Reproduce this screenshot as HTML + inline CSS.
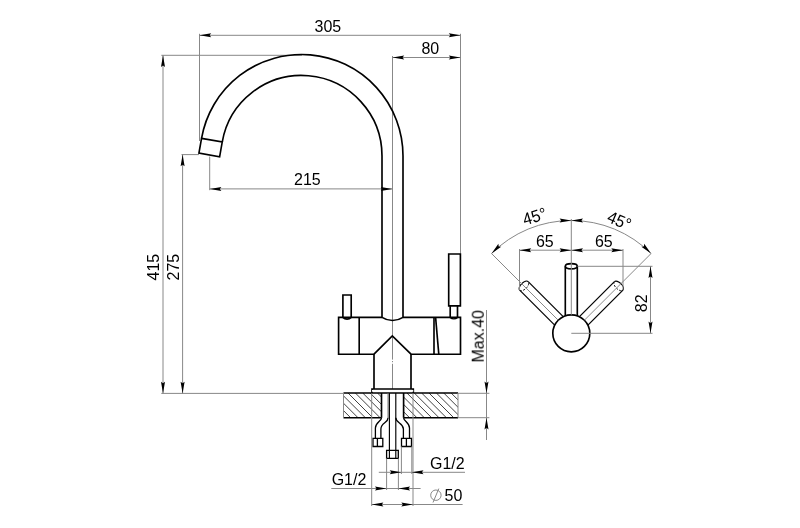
<!DOCTYPE html>
<html><head><meta charset="utf-8"><style>
html,body{margin:0;padding:0;background:#fff;}
svg{display:block;}
text{font-family:"Liberation Sans",sans-serif;fill:#000;}
.t{will-change:transform;}
.k{fill:none;stroke:#000;stroke-width:1.65;stroke-linejoin:miter;}
.k1{fill:none;stroke:#000;stroke-width:1.3;}
.n{fill:none;stroke:#888;stroke-width:1.0;}
.g{fill:none;stroke:#888;stroke-width:1.3;}
.w{fill:none;stroke:#fff;stroke-width:1.8;}
.h{fill:none;stroke:#111;stroke-width:0.8;}
.k3{fill:none;stroke:#000;stroke-width:1.15;}
.k2{fill:none;stroke:#000;stroke-width:1.2;}
.d{fill:none;stroke:#111;stroke-width:0.9;stroke-dasharray:2.2 1.3;}
.a{fill:#000;stroke:none;}
</style></head><body>
<svg width="800" height="528" viewBox="0 0 800 528">
<rect width="800" height="528" fill="#fff"/>
<line class="n" x1="199.5" y1="33.8" x2="199.5" y2="141"/>
<line class="n" x1="460.5" y1="33.8" x2="460.5" y2="253.7"/>
<line class="n" x1="199.5" y1="35.3" x2="460.5" y2="35.3"/>
<path class="a" d="M199.5 35.3L211.2 33.3L209.6 35.3L211.2 37.3Z"/>
<path class="a" d="M460.5 35.3L448.8 37.3L450.4 35.3L448.8 33.3Z"/>
<line class="n" x1="392.5" y1="56" x2="392.5" y2="359.6"/>
<line class="n" x1="392.5" y1="361" x2="392.5" y2="362.2"/>
<line class="n" x1="392.5" y1="363.8" x2="392.5" y2="389"/>
<line class="n" x1="392.5" y1="57.5" x2="460.5" y2="57.5"/>
<path class="a" d="M392.5 57.5L404.2 55.5L402.6 57.5L404.2 59.5Z"/>
<path class="a" d="M460.5 57.5L448.8 59.5L450.4 57.5L448.8 55.5Z"/>
<line class="n" x1="209.7" y1="156.5" x2="209.7" y2="190.2"/>
<line class="n" x1="209.7" y1="188.9" x2="392.5" y2="188.9"/>
<path class="a" d="M209.7 188.9L221.4 186.9L219.8 188.9L221.4 190.9Z"/>
<path class="a" d="M392.5 188.9L380.8 190.9L382.4 188.9L380.8 186.9Z"/>
<line class="n" x1="161.3" y1="55.3" x2="302" y2="55.3"/>
<line class="n" x1="181.5" y1="154.6" x2="199" y2="154.6"/>
<line class="n" x1="161.3" y1="393.4" x2="343.5" y2="393.4"/>
<line class="n" x1="163" y1="55.3" x2="163" y2="393.4"/>
<path class="a" d="M163 55.3L165 67L163 65.4L161 67Z"/>
<path class="a" d="M163 393.4L161 381.7L163 383.3L165 381.7Z"/>
<line class="n" x1="182.6" y1="154.6" x2="182.6" y2="393.4"/>
<path class="a" d="M182.6 154.6L184.6 166.3L182.6 164.7L180.6 166.3Z"/>
<path class="a" d="M182.6 393.4L180.6 381.7L182.6 383.3L184.6 381.7Z"/>
<path class="k" d="M403 317.4V156A101.5 101.5 0 0 0 201.54 138.37"/>
<path class="k" d="M382 317.4V156A80.5 80.5 0 0 0 222.22 142.02"/>
<path class="k" d="M201.54 138.37L222.22 142.02L219.62 156.79L198.94 153.15Z"/>
<path class="k" d="M382 317.4A19.3 19.3 0 0 0 403 317.4"/>
<path class="k" d="M382 317.4H338.6V354.2H374L392.3 335.9L411 354.2H460.5V317.4H403"/>
<line class="k" x1="359.2" y1="317.4" x2="359.2" y2="354.2"/>
<line class="k" x1="434" y1="317.4" x2="434" y2="354.2"/>
<line class="k" x1="435.6" y1="317.4" x2="438.8" y2="354.2"/>
<path class="k" d="M342.9 317.4V295H351.2V317.4"/>
<path class="k" d="M342.9 317.4A6 6 0 0 0 351.2 317.4"/>
<path class="k" d="M448.7 254H460.4V305.9H448.7Z"/>
<path class="k" d="M450.2 305.9V317.4M457.5 305.9V317.4"/>
<path class="k" d="M450.2 317.4A5.5 5.5 0 0 0 457.5 317.4"/>
<path class="k" d="M374 354.2V389M411 354.2V389"/>
<path class="k" d="M372 393V389H413.3V393"/>
<line class="w" x1="372" y1="390.9" x2="413.3" y2="390.9"/>
<clipPath id="hl"><rect x="343.5" y="393" width="38" height="24.7"/></clipPath>
<clipPath id="hr"><rect x="403.6" y="393" width="54.4" height="24.7"/></clipPath>
<path class="h" clip-path="url(#hl)" d="M303.81 393L328.51 417.7M311.18 393L335.88 417.7M318.54 393L343.24 417.7M325.9 393L350.6 417.7M333.27 393L357.97 417.7M340.63 393L365.33 417.7M348 393L372.7 417.7M355.37 393L380.06 417.7M362.73 393L387.43 417.7M370.1 393L394.8 417.7M377.46 393L402.16 417.7M384.82 393L409.52 417.7M392.19 393L416.89 417.7M399.56 393L424.25 417.7M406.92 393L431.62 417.7M414.28 393L438.98 417.7M421.65 393L446.35 417.7M429.01 393L453.71 417.7M436.38 393L461.08 417.7M443.75 393L468.44 417.7M451.11 393L475.81 417.7M458.48 393L483.18 417.7M465.84 393L490.54 417.7M473.2 393L497.9 417.7"/>
<path class="h" clip-path="url(#hr)" d="M303.81 393L328.51 417.7M311.18 393L335.88 417.7M318.54 393L343.24 417.7M325.9 393L350.6 417.7M333.27 393L357.97 417.7M340.63 393L365.33 417.7M348 393L372.7 417.7M355.37 393L380.06 417.7M362.73 393L387.43 417.7M370.1 393L394.8 417.7M377.46 393L402.16 417.7M384.82 393L409.52 417.7M392.19 393L416.89 417.7M399.56 393L424.25 417.7M406.92 393L431.62 417.7M414.28 393L438.98 417.7M421.65 393L446.35 417.7M429.01 393L453.71 417.7M436.38 393L461.08 417.7M443.75 393L468.44 417.7M451.11 393L475.81 417.7M458.48 393L483.18 417.7M465.84 393L490.54 417.7M473.2 393L497.9 417.7"/>
<path class="k" d="M343.5 393H458M343.5 417.7H381.5M403.6 417.7H458"/>
<line class="n" x1="343.5" y1="393" x2="343.5" y2="417.7"/>
<line class="n" x1="458" y1="393" x2="458" y2="417.7"/>
<path class="k" d="M381.5 393V417.7M403.6 393V417.7"/>
<line class="g" x1="388.1" y1="393.5" x2="388.1" y2="417.7"/>
<path class="k3" d="M389.4 393V458.4M395.8 393V458.4"/>
<path class="k1" d="M381.5 417.7C381.5 421 375.4 422.5 375.4 428V438.3"/>
<path class="k1" d="M388.1 417.7C388.1 423 380.9 422.5 380.9 429V438.3"/>
<path class="k1" d="M395.8 417.7C395.8 423 403.4 423 403.4 429V438.3"/>
<path class="k1" d="M403.6 417.7C403.6 421 409.5 422.5 409.5 428V438.3"/>
<path class="k1" d="M373 438.3H382.8V446.5H373Z"/>
<line class="k1" x1="377.4" y1="438.3" x2="377.4" y2="446.5"/>
<path class="k1" d="M401.5 438.3H411.5V446.5H401.5Z"/>
<line class="k1" x1="406.4" y1="438.3" x2="406.4" y2="446.5"/>
<path class="k1" d="M386.6 450.3H398.3V458.4H386.6Z"/>
<line class="n" x1="371.7" y1="393.4" x2="371.7" y2="506"/>
<line class="n" x1="413" y1="393.4" x2="413" y2="506"/>
<line class="n" x1="386.6" y1="458.4" x2="386.6" y2="490"/>
<line class="n" x1="398.4" y1="458.4" x2="398.4" y2="490"/>
<line class="n" x1="401.4" y1="446.5" x2="401.4" y2="474"/>
<line class="n" x1="411.8" y1="446.5" x2="411.8" y2="474"/>
<line class="n" x1="378.8" y1="472.3" x2="465" y2="472.3"/>
<path class="a" d="M401.4 472.3L389.7 474.3L391.3 472.3L389.7 470.3Z"/>
<path class="a" d="M411.8 472.3L423.5 470.3L421.9 472.3L423.5 474.3Z"/>
<line class="n" x1="331.3" y1="488.5" x2="420.6" y2="488.5"/>
<path class="a" d="M386.6 488.5L374.9 490.5L376.5 488.5L374.9 486.5Z"/>
<path class="a" d="M398.4 488.5L410.1 486.5L408.5 488.5L410.1 490.5Z"/>
<line class="n" x1="371.7" y1="504.5" x2="462.6" y2="504.5"/>
<path class="a" d="M371.7 504.5L383.4 502.5L381.8 504.5L383.4 506.5Z"/>
<path class="a" d="M413 504.5L401.3 506.5L402.9 504.5L401.3 502.5Z"/>
<circle class="n" cx="435.9" cy="495.2" r="5.2"/>
<line class="n" x1="433" y1="502.5" x2="438.8" y2="488.6"/>
<line class="n" x1="486.5" y1="310" x2="486.5" y2="440"/>
<line class="n" x1="458" y1="393.3" x2="489.4" y2="393.3"/>
<line class="n" x1="458" y1="417.7" x2="489.4" y2="417.7"/>
<path class="a" d="M486.5 393.3L484.5 381.6L486.5 383.2L488.5 381.6Z"/>
<path class="a" d="M486.5 417.7L488.5 429.4L486.5 427.8L484.5 429.4Z"/>
<circle class="k" cx="571.3" cy="333.3" r="18.5"/>
<line class="k2" x1="563.17" y1="316.68" x2="528.17" y2="281.68"/>
<line class="k2" x1="554.68" y1="325.17" x2="519.68" y2="290.17"/>
<g transform="translate(523.92 285.92) rotate(-45)"><path class="k2" d="M-6.0 0A6.0 3.2 0 0 1 6.0 0"/><path class="d" d="M-6.0 0A6.0 3.2 0 0 0 6.0 0"/></g>
<line class="n" x1="491.54" y1="253.54" x2="558.22" y2="320.22"/>
<line class="k" x1="577.3" y1="315.8" x2="577.3" y2="266.3"/>
<line class="k" x1="565.3" y1="315.8" x2="565.3" y2="266.3"/>
<ellipse class="k" cx="571.3" cy="266.3" rx="6.0" ry="2.6"/>
<line class="k2" x1="587.92" y1="325.17" x2="622.92" y2="290.17"/>
<line class="k2" x1="579.43" y1="316.68" x2="614.43" y2="281.68"/>
<g transform="translate(618.68 285.92) rotate(45)"><path class="k2" d="M-6.0 0A6.0 3.2 0 0 1 6.0 0"/><path class="d" d="M-6.0 0A6.0 3.2 0 0 0 6.0 0"/></g>
<line class="n" x1="651.06" y1="253.54" x2="584.38" y2="320.22"/>
<line class="n" x1="571.3" y1="219" x2="571.3" y2="314.8"/>
<path class="n" d="M491.54 253.54A112.8 112.8 0 0 1 651.06 253.54"/>
<path class="a" d="M571.3 220.5L559.6 222.5L561.2 220.5L559.6 218.5Z"/>
<path class="a" d="M571.3 220.5L583 218.5L581.4 220.5L583 222.5Z"/>
<path class="a" d="M491.54 253.54L498.4 243.85L498.68 246.4L501.23 246.68Z"/>
<path class="a" d="M651.06 253.54L641.37 246.68L643.92 246.4L644.2 243.85Z"/>
<line class="n" x1="519.5" y1="249" x2="519.5" y2="290"/>
<line class="n" x1="623" y1="249" x2="623" y2="290"/>
<line class="n" x1="519.5" y1="250.2" x2="623" y2="250.2"/>
<path class="a" d="M519.5 250.2L531.2 248.2L529.6 250.2L531.2 252.2Z"/>
<path class="a" d="M571.3 250.2L559.6 252.2L561.2 250.2L559.6 248.2Z"/>
<path class="a" d="M571.3 250.2L583 248.2L581.4 250.2L583 252.2Z"/>
<path class="a" d="M623 250.2L611.3 252.2L612.9 250.2L611.3 248.2Z"/>
<line class="n" x1="577.5" y1="266.3" x2="652.5" y2="266.3"/>
<line class="n" x1="571.3" y1="333.3" x2="652.5" y2="333.3"/>
<line class="n" x1="650.5" y1="266.3" x2="650.5" y2="333.3"/>
<path class="a" d="M650.5 266.3L652.5 278L650.5 276.4L648.5 278Z"/>
<path class="a" d="M650.5 333.3L648.5 321.6L650.5 323.2L652.5 321.6Z"/>
<g class="t"><text font-size="16" text-anchor="middle" transform="translate(327.9 32) scale(1 1.065)">305</text>
<text font-size="16" text-anchor="middle" transform="translate(430.3 54) scale(1 1.065)">80</text>
<text font-size="16" text-anchor="middle" transform="translate(307.4 185.4) scale(1 1.065)">215</text>
<text font-size="16" text-anchor="middle" transform="translate(158.8 267.1) rotate(-90) scale(1 1.065)">415</text>
<text font-size="16" text-anchor="middle" transform="translate(179.2 267.1) rotate(-90) scale(1 1.065)">275</text>
<text font-size="16" text-anchor="middle" transform="translate(447.3 468.8) scale(1 1.065)">G1/2</text>
<text font-size="16" text-anchor="middle" transform="translate(349 485) scale(1 1.065)">G1/2</text>
<text font-size="16" text-anchor="start" transform="translate(444.5 500.6) scale(1 1.065)">50</text>
<text font-size="16" text-anchor="middle" transform="translate(483.7 336.3) rotate(-90) scale(1 1.065)">Max.40</text>
<text font-size="16" text-anchor="middle" transform="translate(536.2 222) rotate(-17) scale(1 1.065)">45°</text>
<text font-size="16" text-anchor="middle" transform="translate(617 226) rotate(23) scale(1 1.065)">45°</text>
<text font-size="16" text-anchor="middle" transform="translate(544.8 247) scale(1 1.065)">65</text>
<text font-size="16" text-anchor="middle" transform="translate(603.8 247.2) scale(1 1.065)">65</text>
<text font-size="16" text-anchor="middle" transform="translate(647.2 303.3) rotate(-90) scale(1 1.065)">82</text></g>
</svg>
</body></html>
